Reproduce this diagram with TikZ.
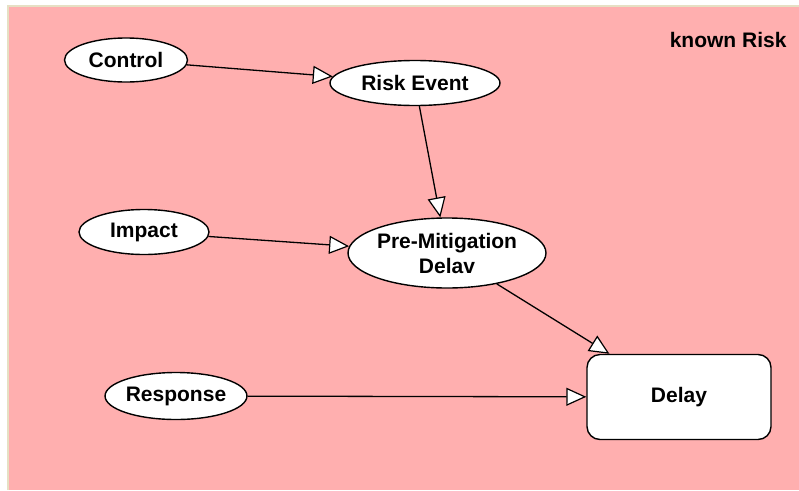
\documentclass[tikz,border=0pt]{standalone}
\usepackage{fontspec}
\setmainfont{Liberation Sans}
\usetikzlibrary{shapes.geometric,arrows.meta}
\definecolor{frameedge}{HTML}{E6E0C4}
\definecolor{panelpink}{HTML}{FFAFAF}
\tikzset{
  chance/.style={ellipse, draw=black, line width=1.4pt, fill=white, inner sep=0pt,
    font=\fontsize{21}{25}\selectfont\bfseries, align=center},
  valuebox/.style={rectangle, rounded corners=13pt, draw=black, line width=1.4pt, fill=white,
    inner sep=0pt, font=\fontsize{21}{25}\selectfont\bfseries},
  link/.style={line width=1.3pt, -{Triangle[length=20pt, width=18pt, fill=white, line width=1.2pt]}}
}
\begin{document}
\begin{tikzpicture}[x=1pt, y=-1pt]
  \useasboundingbox (0,0) rectangle (799,490);
  % page frame and diagram panel
  \fill[white] (0,0) rectangle (799,490);
  \fill[panelpink] (8,6) rectangle (799,490);
  \draw[frameedge, line width=1.8pt] (8,490) -- (8,6) -- (799,6);

  \node[font=\fontsize{21}{25}\selectfont\bfseries, anchor=east] (title) at (790,40) {known Risk};

  \node[chance, minimum width=123pt, minimum height=44pt] (control) at (126,60) {Control};
  \node[chance, minimum width=170pt, minimum height=45pt] (riskevent) at (415,83) {Risk Event};
  \node[chance, minimum width=130pt, minimum height=45pt] (impact) at (144,232) {Impact};
  \node[chance, minimum width=193pt, minimum height=70pt] (premit) at (447,253) {Pre-Mitigation\\Delav};
  \node[chance, minimum width=140pt, minimum height=47pt] (response) at (176,396) {Response};
  \node[valuebox, minimum width=184pt, minimum height=85pt] (delay) at (679,397) {Delay};

  \draw[link] (control) -- (riskevent);
  \draw[link] (riskevent) -- (premit);
  \draw[link] (impact) -- (premit);
  \draw[link] (premit) -- (delay);
  \draw[link] (response) -- (delay);
\end{tikzpicture}
\end{document}
